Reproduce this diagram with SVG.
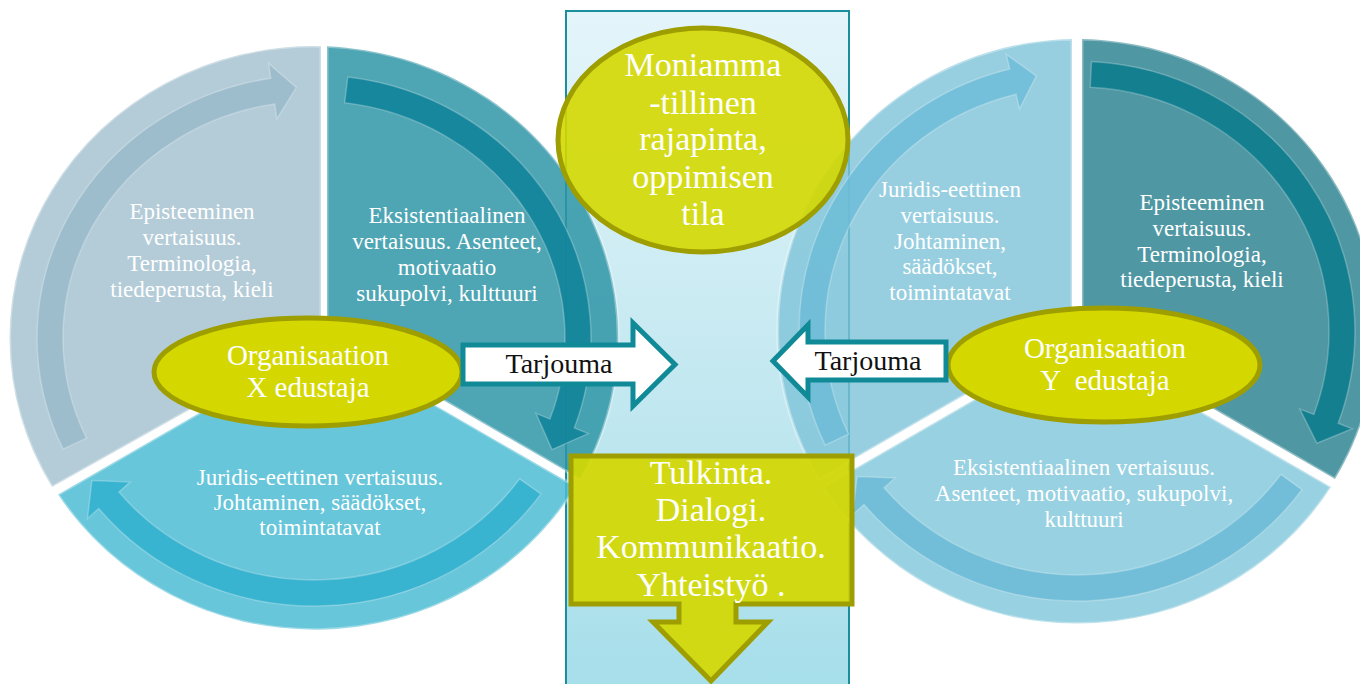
<svg xmlns="http://www.w3.org/2000/svg" width="1360" height="684" viewBox="0 0 1360 684">
<defs>
<linearGradient id="colGrad" x1="0" y1="0" x2="0" y2="1">
<stop offset="0" stop-color="#e4f5fa"/>
<stop offset="0.5" stop-color="#c6e9f1"/>
<stop offset="1" stop-color="#a5deea"/>
</linearGradient>
<style>
.wl{stroke:#ffffff;stroke-opacity:.35;stroke-width:3;fill-opacity:.85}
.wr{stroke:#ffffff;stroke-opacity:.35;stroke-width:3;fill-opacity:.8}
.al{fill-opacity:.9;stroke:#ffffff;stroke-opacity:.25;stroke-width:1.5}
.ar{fill-opacity:.85;stroke:#ffffff;stroke-opacity:.25;stroke-width:1.5}
.wt{font-family:"Liberation Serif","DejaVu Serif",serif;font-size:23px;fill:#ffffff;text-anchor:middle}
.yel{fill:#d4d800;stroke:#9e9e00;stroke-width:5}
.yt{font-family:"Liberation Serif","DejaVu Serif",serif;font-size:34px;fill:#ffffff;text-anchor:middle}
.ot{font-family:"Liberation Serif","DejaVu Serif",serif;font-size:29px;fill:#ffffff;text-anchor:middle;white-space:pre}
.ta{fill:#ffffff;stroke:#118a98;stroke-width:5;stroke-linejoin:miter}
.tt{font-family:"Liberation Serif","DejaVu Serif",serif;font-size:28px;fill:#111111;text-anchor:middle}
</style>
</defs>
<rect width="1360" height="684" fill="#ffffff"/>

<g id="column">
<rect x="566" y="11" width="283" height="690" fill="url(#colGrad)" stroke="#1a8e9b" stroke-width="2"/>
</g>

<g id="left-cycle">
<g id="l-episteeminen">
<path class="wl" fill="#a7c3d1" d="M321,336 L321,46.2 A304,292 0 0 0 52,487 Z"/>
<path class="al" fill="#9abbcc" d="M63.0,449.1 A277,263 0 0 1 270.7,78.2 L268.6,63.4 L296.4,87.5 L276.8,118.8 L274.7,103.9 A251,237 0 0 0 86.5,438.2 Z"/>
<text class="wt"><tspan x="192" y="219">Episteeminen</tspan><tspan x="192" y="245">vertaisuus.</tspan><tspan x="192" y="271">Terminologia,</tspan><tspan x="192" y="297">tiedeperusta, kieli</tspan></text>
</g>
<g id="l-eksistentiaalinen">
<path class="wl" fill="#2f95a6" d="M327,333 L327,46.3 A304,292 0 0 1 580.3,479.3 Z"/>
<path class="al" fill="#12849a" d="M347.8,77.0 A277,263 0 0 1 574.3,427.9 L588.2,433.6 L552.0,449.6 L536.0,413.4 L549.9,419.1 A251,237 0 0 0 344.6,102.8 Z"/>
<text class="wt"><tspan x="447" y="223">Eksistentiaalinen</tspan><tspan x="447" y="249">vertaisuus. Asenteet,</tspan><tspan x="447" y="275">motivaatio</tspan><tspan x="447" y="301">sukupolvi, kulttuuri</tspan></text>
</g>
<g id="l-juridis">
<path class="wl" fill="#4dbcd4" d="M324,341 L576,486.5 A304,292 0 0 1 58,494.5 Z"/>
<path class="al" fill="#33b0ce" transform="translate(0,5)" d="M540.9,488.9 A277,263 0 0 1 98.7,503.5 L87.5,513.5 L91.9,475.5 L130.1,477.1 L118.9,487.1 A251,237 0 0 0 519.6,473.9 Z"/>
<text class="wt"><tspan x="320" y="485">Juridis-eettinen vertaisuus.</tspan><tspan x="320" y="510">Johtaminen, säädökset,</tspan><tspan x="320" y="535">toimintatavat</tspan></text>
</g>
</g>

<g id="right-cycle">
<g id="r-juridis">
<path class="wr" fill="#7ec3d8" d="M1072,333 L1072,39 A300,292 0 0 0 819,479 Z"/>
<path class="ar" fill="#6dbcd7" d="M825.1,445.1 A278,270 0 0 1 1009.8,69.0 L1006.3,54.4 L1036.2,76.0 L1019.5,108.8 L1016.0,94.2 A252,244 0 0 0 848.6,434.1 Z"/>
<text class="wt"><tspan x="950" y="197">Juridis-eettinen</tspan><tspan x="950" y="223">vertaisuus.</tspan><tspan x="950" y="249">Johtaminen,</tspan><tspan x="950" y="274">säädökset,</tspan><tspan x="950" y="300">toimintatavat</tspan></text>
</g>
<g id="r-episteeminen">
<path class="wr" fill="#237d8c" d="M1082,333 L1082,39 A300,292 0 0 1 1335,479 Z"/>
<path class="ar" fill="#087a8c" d="M1091.5,61.4 A278,270 0 0 1 1338.2,423.3 L1352.2,428.7 L1316.9,443.2 L1299.8,409.1 L1313.8,414.4 A252,244 0 0 0 1090.2,87.3 Z"/>
<text class="wt"><tspan x="1202" y="210">Episteeminen</tspan><tspan x="1202" y="236">vertaisuus.</tspan><tspan x="1202" y="262">Terminologia,</tspan><tspan x="1202" y="287">tiedeperusta, kieli</tspan></text>
</g>
<g id="r-eksistentiaalinen">
<path class="wr" fill="#7ec5d9" d="M1077,340 L1331,487 A300,292 0 0 1 823,487 Z"/>
<path class="ar" fill="#6bbbd6" d="M1301.9,489.7 A278,270 0 0 1 864.0,504.6 L852.8,514.5 L857.0,476.5 L895.2,477.9 L884.0,487.8 A252,244 0 0 0 1280.9,474.4 Z"/>
<text class="wt"><tspan x="1084" y="475">Eksistentiaalinen vertaisuus.</tspan><tspan x="1084" y="501">Asenteet, motivaatio, sukupolvi,</tspan><tspan x="1084" y="527">kulttuuri</tspan></text>
</g>
</g>

<g id="rajapinta">
<ellipse class="yel" cx="703" cy="140" rx="145" ry="112" fill-opacity=".9"/>
<text class="yt"><tspan x="703" y="76">Moniamma</tspan><tspan x="703" y="114">-tillinen</tspan><tspan x="703" y="150">rajapinta,</tspan><tspan x="703" y="188">oppimisen</tspan><tspan x="703" y="225">tila</tspan></text>
</g>

<g id="tulkinta">
<path class="yel" fill-opacity=".92" d="M571,456 H852 V604 H736 V622 H768 L711,681 L653,622 H679 V604 H571 Z"/>
<text class="yt"><tspan x="711" y="484">Tulkinta.</tspan><tspan x="711" y="521">Dialogi.</tspan><tspan x="711" y="558">Kommunikaatio.</tspan><tspan x="711" y="596">Yhteistyö .</tspan></text>
</g>

<g id="org-x">
<ellipse class="yel" cx="308" cy="372" rx="154" ry="54"/>
<text class="ot"><tspan x="308" y="365">Organisaation</tspan><tspan x="308" y="397">X edustaja</tspan></text>
</g>

<g id="org-y">
<ellipse class="yel" cx="1104" cy="365" rx="156" ry="57"/>
<text class="ot"><tspan x="1105" y="358">Organisaation</tspan><tspan x="1105" y="390">Y  edustaja</tspan></text>
</g>

<g id="connectors">
<g id="tarjouma-x">
<path class="ta" d="M463,345 H633 V323 L675,364.5 L633,406 V384 H463 Z"/>
<text class="tt" x="559" y="373">Tarjouma</text>
</g>
<g id="tarjouma-y">
<path class="ta" d="M946,342 H808 V325 L773,361 L808,397 V380 H946 Z"/>
<text class="tt" x="868" y="370">Tarjouma</text>
</g>
</g>
</svg>
